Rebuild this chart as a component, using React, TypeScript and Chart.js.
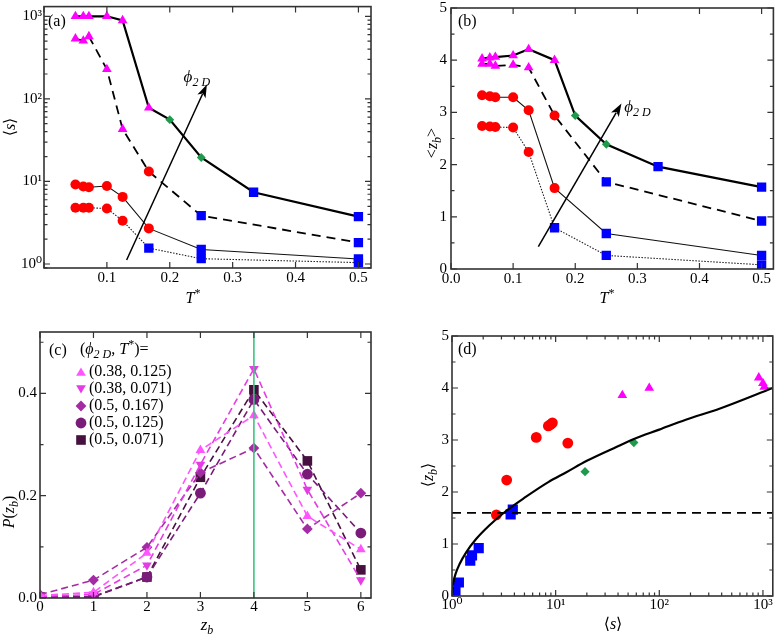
import React, { useEffect, useRef } from 'react';
import { Chart, registerables } from 'chart.js';

Chart.register(...registerables);

const SERIF = "'Liberation Serif', 'DejaVu Serif', serif";

// ---------------- Panels (a) and (b) ----------------
const T_PHI1 = [0.05, 0.0625, 0.0714, 0.1, 0.125, 0.1667, 0.2, 0.25, 0.3333, 0.5];
const T_OTHER = [0.05, 0.0625, 0.0714, 0.1, 0.125, 0.1667, 0.25, 0.5];

const KIND_PHI1 = ['T', 'T', 'T', 'T', 'T', 'T', 'D', 'D', 'S', 'S'];
const KIND_PHI2 = ['T', 'T', 'T', 'T', 'T', 'C', 'S', 'S'];
const KIND_PHI3 = ['C', 'C', 'C', 'C', 'C', 'C', 'S', 'S'];
const KIND_PHI4 = ['C', 'C', 'C', 'C', 'C', 'S', 'S', 'S'];

const S_PHI1 = [1000, 1000, 1000, 1000, 890, 78, 56, 19.5, 7.4, 3.75];
const S_PHI2 = [535, 505, 570, 228, 43, 13.2, 3.85, 1.82];
const S_PHI3 = [9.2, 8.7, 8.5, 8.8, 6.5, 2.7, 1.5, 1.15];
const S_PHI4 = [4.8, 4.8, 4.8, 4.7, 3.35, 1.56, 1.16, 1.04];

const Z_PHI1 = [4.03, 4.05, 4.06, 4.09, 4.21, 4.0, 2.94, 2.39, 1.96, 1.57];
const Z_PHI2 = [3.93, 3.93, 3.89, 3.91, 3.86, 2.94, 1.67, 0.92];
const Z_PHI3 = [3.33, 3.31, 3.29, 3.29, 3.04, 1.55, 0.68, 0.26];
const Z_PHI4 = [2.74, 2.73, 2.72, 2.71, 2.24, 0.79, 0.26, 0.08];

const T_TICKS_A = [0.1, 0.2, 0.3, 0.4, 0.5];
const T_TICKS_B = [0, 0.1, 0.2, 0.3, 0.4, 0.5];
const S_DECADES_A = [1, 10, 100, 1000];
const Z_TICKS = [0, 1, 2, 3, 4, 5];

const ARROW_A = [0.1314, 1.117, 0.259, 149];
const ARROW_B = [0.1406, 0.43, 0.2744, 3.17];
const PHI_LABEL_A = [0.222, 180];
const PHI_LABEL_B = [0.279, 3.09];

// ---------------- Panel (c) ----------------
const ZB = [0, 1, 2, 3, 4, 5, 6];
const C_LABELS = ['(0.38, 0.125)', '(0.38, 0.071)', '(0.5, 0.167)', '(0.5, 0.125)', '(0.5, 0.071)'];
const P_038_0125 = [0.005, 0.011, 0.088, 0.289, 0.357, 0.16, 0.095];
const P_038_0071 = [0.003, 0.007, 0.064, 0.261, 0.448, 0.212, 0.035];
const P_05_0167 = [0.0065, 0.035, 0.099, 0.245, 0.293, 0.135, 0.205];
const P_05_0125 = [0.002, 0.003, 0.041, 0.205, 0.388, 0.242, 0.127];
const P_05_0071 = [0.002, 0.002, 0.041, 0.236, 0.407, 0.268, 0.055];
const P_TICKS = [0, 0.2, 0.4];
const ZB_MARK = 4;

// ---------------- Panel (d) ----------------
const D_SQ_S = [1.08, 1.165, 1.5, 1.56, 1.81, 3.68, 3.86];
const D_SQ_Z = [0.08, 0.26, 0.68, 0.78, 0.92, 1.57, 1.66];
const D_CI_S = [2.68, 3.37, 6.5, 8.5, 8.95, 9.3, 13.1];
const D_CI_Z = [1.56, 2.23, 3.05, 3.27, 3.3, 3.33, 2.94];
const D_DI_S = [19.2, 56.8];
const D_DI_Z = [2.39, 2.95];
const D_TR_S = [44, 80, 912, 1000, 1030];
const D_TR_Z = [3.86, 4.0, 4.2, 4.09, 4.02];
const FIT_S = [1.0, 1.01, 1.03, 1.08, 1.18, 1.37, 1.7, 2.3, 3.3, 5.1, 8.5, 12.7, 20, 42, 57, 100, 180, 380, 1245];
const FIT_Z = [0.0, 0.15, 0.26, 0.42, 0.61, 0.84, 1.09, 1.36, 1.63, 1.9, 2.19, 2.38, 2.6, 2.9, 3.02, 3.2, 3.39, 3.6, 4.0];
const THRESH_Z = 1.6;
const S_DECADES_D = [1, 10, 100, 1000];

// ---------------- helpers ----------------
const MK: any = {
  T: { style: 'triangle', color: '#ff00ff' },
  C: { style: 'circle', color: '#ff0000' },
  D: { style: 'rectRot', color: '#1f9a4c' },
  S: { style: 'rect', color: '#0000ff' },
};
const SUP = ['\u2070', '\u00b9', '\u00b2', '\u00b3'];
const AX_FONT = { family: SERIF, size: 15 };

type Seg = { t: string; it?: boolean; sub?: boolean; sup?: boolean };

function drawRich(ctx: CanvasRenderingContext2D, segs: Seg[], x: number, y: number, size: number, align: string, rot: number) {
  ctx.save();
  ctx.translate(x, y);
  ctx.rotate(rot);
  const fontFor = (s: Seg) => `${s.it ? 'italic ' : ''}${s.sub || s.sup ? Math.round(size * 0.72) : size}px ${SERIF}`;
  let total = 0;
  const widths = segs.map((s) => {
    ctx.font = fontFor(s);
    const w = ctx.measureText(s.t).width;
    total += w;
    return w;
  });
  let cx = align === 'center' ? -total / 2 : 0;
  ctx.textBaseline = 'middle';
  ctx.textAlign = 'left';
  ctx.fillStyle = '#000';
  segs.forEach((s, i) => {
    ctx.font = fontFor(s);
    const dy = s.sub ? size * 0.3 : s.sup ? -size * 0.33 : 0;
    ctx.fillText(s.t, cx, dy);
    cx += widths[i];
  });
  ctx.restore();
}

function drawMarker(ctx: CanvasRenderingContext2D, style: string, x: number, y: number, r: number, rotDeg: number, color: string) {
  ctx.save();
  ctx.fillStyle = color;
  ctx.beginPath();
  let rad = (rotDeg * Math.PI) / 180;
  if (style === 'circle') {
    ctx.arc(x, y, r, 0, Math.PI * 2);
  } else if (style === 'triangle') {
    for (let k = 0; k < 3; k++) {
      const px = x + Math.sin(rad) * r;
      const py = y - Math.cos(rad) * r;
      if (k === 0) ctx.moveTo(px, py);
      else ctx.lineTo(px, py);
      rad += (2 * Math.PI) / 3;
    }
    ctx.closePath();
  } else if (style === 'rect') {
    const s = Math.SQRT1_2 * r;
    ctx.rect(x - s, y - s, 2 * s, 2 * s);
  } else if (style === 'rectRot') {
    ctx.moveTo(x - r, y);
    ctx.lineTo(x, y - r);
    ctx.lineTo(x + r, y);
    ctx.lineTo(x, y + r);
    ctx.closePath();
  }
  ctx.fill();
  ctx.restore();
}

function makeDeco(cfg: any) {
  return {
    id: 'deco',
    afterDatasetsDraw(chart: any) {
      const ctx: CanvasRenderingContext2D = chart.ctx;
      const a = chart.chartArea;
      const xs = chart.scales.x;
      const ys = chart.scales.y;
      ctx.save();
      (cfg.vlines || []).forEach((v: any) => {
        const px = xs.getPixelForValue(v.x);
        ctx.strokeStyle = v.color;
        ctx.lineWidth = v.width;
        ctx.beginPath();
        ctx.moveTo(px, a.top);
        ctx.lineTo(px, a.bottom);
        ctx.stroke();
      });
      // frame
      ctx.strokeStyle = '#333';
      ctx.lineWidth = 1.6;
      ctx.strokeRect(a.left, a.top, a.right - a.left, a.bottom - a.top);
      ctx.lineWidth = 1.2;
      const inRange = (v: number, s: any) => v >= s.min - 1e-9 && v <= s.max + 1e-9;
      const xt = (vals: number[], len: number) =>
        vals.forEach((v) => {
          if (!inRange(v, xs)) return;
          const p = xs.getPixelForValue(v);
          ctx.beginPath();
          ctx.moveTo(p, a.bottom);
          ctx.lineTo(p, a.bottom - len);
          ctx.moveTo(p, a.top);
          ctx.lineTo(p, a.top + len);
          ctx.stroke();
        });
      const yt = (vals: number[], len: number) =>
        vals.forEach((v) => {
          if (!inRange(v, ys)) return;
          const p = ys.getPixelForValue(v);
          ctx.beginPath();
          ctx.moveTo(a.left, p);
          ctx.lineTo(a.left + len, p);
          ctx.moveTo(a.right, p);
          ctx.lineTo(a.right - len, p);
          ctx.stroke();
        });
      xt(cfg.xMajor || [], 6);
      xt(cfg.xMinor || [], 3.5);
      yt(cfg.yMajor || [], 6);
      yt(cfg.yMinor || [], 3.5);
      // arrows
      (cfg.arrows || []).forEach((ar: number[]) => {
        const x0 = xs.getPixelForValue(ar[0]);
        const y0 = ys.getPixelForValue(ar[1]);
        const x1 = xs.getPixelForValue(ar[2]);
        const y1 = ys.getPixelForValue(ar[3]);
        const ang = Math.atan2(y1 - y0, x1 - x0);
        const hl = 13;
        const hw = 4.5;
        ctx.strokeStyle = '#000';
        ctx.fillStyle = '#000';
        ctx.lineWidth = 1.5;
        ctx.beginPath();
        ctx.moveTo(x0, y0);
        ctx.lineTo(x1 - Math.cos(ang) * hl * 0.8, y1 - Math.sin(ang) * hl * 0.8);
        ctx.stroke();
        ctx.beginPath();
        ctx.moveTo(x1, y1);
        ctx.lineTo(x1 - Math.cos(ang) * hl - Math.sin(ang) * hw, y1 - Math.sin(ang) * hl + Math.cos(ang) * hw);
        ctx.lineTo(x1 - Math.cos(ang) * hl * 0.75, y1 - Math.sin(ang) * hl * 0.75);
        ctx.lineTo(x1 - Math.cos(ang) * hl + Math.sin(ang) * hw, y1 - Math.sin(ang) * hl - Math.cos(ang) * hw);
        ctx.closePath();
        ctx.fill();
      });
      // texts
      (cfg.texts || []).forEach((t: any) => {
        const x = t.px ? t.px[0] : xs.getPixelForValue(t.data[0]);
        const y = t.px ? t.px[1] : ys.getPixelForValue(t.data[1]);
        drawRich(ctx, t.segs, x, y, t.size || 16, t.align || 'left', t.rot || 0);
      });
      // legend
      if (cfg.legend) {
        const L = cfg.legend;
        L.entries.forEach((e: any, i: number) => {
          const y = L.y + i * L.dy;
          drawMarker(ctx, e.style, L.x, y + (e.style === 'triangle' ? (e.rot ? -1 : 1) : 0), e.r, e.rot || 0, e.color);
          drawRich(ctx, [{ t: e.label }], L.x + 8, y, 16, 'left', 0);
        });
      }
      ctx.restore();
    },
  };
}

function fixAxis(size: number, isX: boolean) {
  return (s: any) => {
    if (isX) s.height = size;
    else s.width = size;
    s.paddingLeft = 0;
    s.paddingRight = 0;
    s.paddingTop = 0;
    s.paddingBottom = 0;
  };
}

function setTicks(vals: number[]) {
  return (s: any) => {
    s.ticks = vals.map((v) => ({ value: v }));
  };
}

function logMinors(lo: number, hi: number) {
  const out: number[] = [];
  for (let e = Math.floor(Math.log10(lo)); e <= Math.ceil(Math.log10(hi)); e++) {
    for (let m = 2; m <= 9; m++) out.push(m * Math.pow(10, e));
  }
  return out;
}

function stepVals(lo: number, hi: number, step: number) {
  const out: number[] = [];
  for (let v = lo; v <= hi + 1e-9; v += step) out.push(Math.round(v * 1000) / 1000);
  return out;
}

function mixedSeries(xs: number[], ys: number[], kinds: string[], radii: any, line: any) {
  return {
    data: xs.map((x, i) => ({ x, y: ys[i] })),
    borderColor: line.color,
    borderWidth: line.width,
    borderDash: line.dash,
    pointStyle: kinds.map((k) => MK[k].style),
    pointBackgroundColor: kinds.map((k) => MK[k].color),
    pointBorderColor: kinds.map((k) => MK[k].color),
    pointBorderWidth: 0,
    pointRadius: kinds.map((k) => radii[k]),
    pointHoverRadius: kinds.map((k) => radii[k]),
    fill: false,
    tension: 0,
    clip: 0,
  };
}

const LINE1 = { color: '#000', width: 2.2, dash: [] };
const LINE2 = { color: '#000', width: 1.8, dash: [9, 6] };
const LINE3 = { color: '#111', width: 1.1, dash: [] };
const LINE4 = { color: '#222', width: 1.1, dash: [1.5, 1.5] };
const RAD_AB = { T: 5.6, C: 5.0, D: 4.4, S: 6.6 };

const baseOpts = {
  animation: false,
  responsive: false,
  devicePixelRatio: 1,
  events: [],
};

function tickCfg(cb: any, padding: number) {
  return { font: AX_FONT, color: '#000', padding, autoSkip: false, maxRotation: 0, minRotation: 0, callback: cb };
}

const noGrid = { display: false, drawTicks: false };
const noBorder = { display: false };

const ANG = { t: '\u27e8' };
const ANG_R = { t: '\u27e9' };

function configA() {
  return {
    type: 'line',
    data: {
      datasets: [
        mixedSeries(T_OTHER, S_PHI4, KIND_PHI4, RAD_AB, LINE4),
        mixedSeries(T_OTHER, S_PHI3, KIND_PHI3, RAD_AB, LINE3),
        mixedSeries(T_OTHER, S_PHI2, KIND_PHI2, RAD_AB, LINE2),
        mixedSeries(T_PHI1, S_PHI1, KIND_PHI1, RAD_AB, LINE1),
      ],
    },
    options: {
      ...baseOpts,
      layout: { padding: { left: 0, top: 5, right: 19, bottom: 0 } },
      plugins: { legend: { display: false }, tooltip: { enabled: false } },
      scales: {
        x: {
          type: 'linear', min: 0, max: 0.52,
          afterBuildTicks: setTicks(T_TICKS_A), afterFit: fixAxis(49, true),
          ticks: tickCfg((v: number) => v.toFixed(1), 1), grid: noGrid, border: noBorder,
        },
        y: {
          type: 'logarithmic', min: 0.895, max: 1310,
          afterBuildTicks: setTicks(S_DECADES_A), afterFit: fixAxis(44, false),
          ticks: tickCfg((v: number) => '10' + SUP[Math.round(Math.log10(v))], 2), grid: noGrid, border: noBorder,
        },
      },
    },
    plugins: [
      makeDeco({
        xMajor: T_TICKS_B,
        yMajor: S_DECADES_A,
        yMinor: logMinors(0.9, 1300),
        arrows: [ARROW_A],
        texts: [
          { segs: [{ t: '(a)' }], px: [48, 22], size: 16 },
          { segs: [{ t: '\u03d5', it: true }, { t: '2 D', it: true, sub: true }], data: PHI_LABEL_A, size: 17 },
          { segs: [{ t: 'T', it: true }, { t: '*', sup: true }], px: [193, 299], size: 16, align: 'center' },
          { segs: [ANG, { t: 's', it: true }, ANG_R], px: [11, 127], size: 16, align: 'center', rot: -Math.PI / 2 },
        ],
      }),
    ],
  };
}

function configB() {
  return {
    type: 'line',
    data: {
      datasets: [
        mixedSeries(T_OTHER, Z_PHI4, KIND_PHI4, RAD_AB, LINE4),
        mixedSeries(T_OTHER, Z_PHI3, KIND_PHI3, RAD_AB, LINE3),
        mixedSeries(T_OTHER, Z_PHI2, KIND_PHI2, RAD_AB, LINE2),
        mixedSeries(T_PHI1, Z_PHI1, KIND_PHI1, RAD_AB, LINE1),
      ],
    },
    options: {
      ...baseOpts,
      layout: { padding: { left: 0, top: 8, right: 3, bottom: 0 } },
      plugins: { legend: { display: false }, tooltip: { enabled: false } },
      scales: {
        x: {
          type: 'linear', min: 0, max: 0.519,
          afterBuildTicks: setTicks(T_TICKS_B), afterFit: fixAxis(48, true),
          ticks: tickCfg((v: number) => v.toFixed(1), 1), grid: noGrid, border: noBorder,
        },
        y: {
          type: 'linear', min: 0, max: 5,
          afterBuildTicks: setTicks(Z_TICKS), afterFit: fixAxis(61, false),
          ticks: tickCfg((v: number) => String(v), 4), grid: noGrid, border: noBorder,
        },
      },
    },
    plugins: [
      makeDeco({
        xMajor: T_TICKS_B,
        yMajor: Z_TICKS,
        yMinor: stepVals(0.5, 4.5, 1),
        arrows: [ARROW_B],
        texts: [
          { segs: [{ t: '(b)' }], px: [68, 22], size: 16 },
          { segs: [{ t: '\u03d5', it: true }, { t: '2 D', it: true, sub: true }], data: PHI_LABEL_B, size: 17 },
          { segs: [{ t: 'T', it: true }, { t: '*', sup: true }], px: [217, 299], size: 16, align: 'center' },
          { segs: [{ t: '<' }, { t: 'z', it: true }, { t: 'b', it: true, sub: true }, { t: '>' }], px: [43, 143], size: 16, align: 'center', rot: -Math.PI / 2 },
        ],
      }),
    ],
  };
}

const C_COLORS = ['#ff55ff', '#e63ce6', '#a32ba3', '#7a1b7a', '#46113f'];
const C_STYLES = [
  { style: 'triangle', rot: 0, r: 5.6 },
  { style: 'triangle', rot: 180, r: 5.6 },
  { style: 'rectRot', rot: 0, r: 5.4 },
  { style: 'circle', rot: 0, r: 5.4 },
  { style: 'rect', rot: 0, r: 6.8 },
];
const C_SERIES = [P_038_0125, P_038_0071, P_05_0167, P_05_0125, P_05_0071];

function configC() {
  return {
    type: 'line',
    data: {
      datasets: C_SERIES.map((vals, i) => ({
        label: C_LABELS[i],
        data: ZB.map((z, j) => ({ x: z, y: vals[j] })),
        borderColor: C_COLORS[i],
        borderWidth: 1.6,
        borderDash: [7, 4],
        pointStyle: C_STYLES[i].style,
        pointRotation: C_STYLES[i].rot,
        pointRadius: C_STYLES[i].r,
        pointBackgroundColor: C_COLORS[i],
        pointBorderColor: C_COLORS[i],
        pointBorderWidth: 0,
        fill: false,
        tension: 0,
        clip: 0,
      })),
    },
    options: {
      ...baseOpts,
      layout: { padding: { left: 0, top: 15, right: 19, bottom: 0 } },
      plugins: { legend: { display: false }, tooltip: { enabled: false } },
      scales: {
        x: {
          type: 'linear', min: 0, max: 6.19,
          afterBuildTicks: setTicks(ZB), afterFit: fixAxis(36, true),
          ticks: tickCfg((v: number) => String(v), 0), grid: noGrid, border: noBorder,
        },
        y: {
          type: 'linear', min: 0, max: 0.52,
          afterBuildTicks: setTicks(P_TICKS), afterFit: fixAxis(40, false),
          ticks: tickCfg((v: number) => v.toFixed(1), 3), grid: noGrid, border: noBorder,
        },
      },
    },
    plugins: [
      makeDeco({
        xMajor: ZB,
        yMajor: P_TICKS,
        yMinor: [0.1, 0.3, 0.5],
        vlines: [{ x: ZB_MARK, color: '#3cc47e', width: 1.6 }],
        texts: [
          { segs: [{ t: '(c)' }], px: [49, 34], size: 16 },
          {
            segs: [{ t: '(' }, { t: '\u03d5', it: true }, { t: '2 D', it: true, sub: true }, { t: ', ' }, { t: 'T', it: true }, { t: '*', sup: true }, { t: ')=' }],
            px: [80, 33], size: 16,
          },
          { segs: [{ t: 'z', it: true }, { t: 'b', it: true, sub: true }], px: [207, 309], size: 17, align: 'center' },
          { segs: [{ t: 'P', it: true }, { t: '(' }, { t: 'z', it: true }, { t: 'b', it: true, sub: true }, { t: ')' }], px: [10, 195], size: 16, align: 'center', rot: -Math.PI / 2 },
        ],
        legend: {
          x: 81, y: 55, dy: 17,
          entries: C_LABELS.map((lab, i) => ({ label: lab, style: C_STYLES[i].style, rot: C_STYLES[i].rot, r: C_STYLES[i].r, color: C_COLORS[i] })),
        },
      }),
    ],
  };
}

function scatterSet(xs: number[], ys: number[], kind: string, r: number) {
  return {
    data: xs.map((x, i) => ({ x, y: ys[i] })),
    showLine: false,
    pointStyle: MK[kind].style,
    pointRadius: r,
    pointBackgroundColor: MK[kind].color,
    pointBorderColor: MK[kind].color,
    pointBorderWidth: 0,
    clip: 0,
  };
}

function configD() {
  return {
    type: 'line',
    data: {
      datasets: [
        {
          data: [{ x: 1, y: THRESH_Z }, { x: 1245, y: THRESH_Z }],
          borderColor: '#000', borderWidth: 1.8, borderDash: [9, 6], pointRadius: 0, fill: false, clip: 0,
        },
        {
          data: FIT_S.map((s, i) => ({ x: s, y: FIT_Z[i] })),
          borderColor: '#000', borderWidth: 2.2, pointRadius: 0, fill: false,
          cubicInterpolationMode: 'monotone', clip: 0,
        },
        scatterSet(D_SQ_S, D_SQ_Z, 'S', 7.2),
        scatterSet(D_CI_S, D_CI_Z, 'C', 5.4),
        scatterSet(D_DI_S, D_DI_Z, 'D', 4.6),
        scatterSet(D_TR_S, D_TR_Z, 'T', 5.6),
      ],
    },
    options: {
      ...baseOpts,
      layout: { padding: { left: 0, top: 19, right: 2, bottom: 0 } },
      plugins: { legend: { display: false }, tooltip: { enabled: false } },
      scales: {
        x: {
          type: 'logarithmic', min: 1, max: 1245,
          afterBuildTicks: setTicks(S_DECADES_D), afterFit: fixAxis(38, true),
          ticks: tickCfg((v: number) => '10' + SUP[Math.round(Math.log10(v))], 0), grid: noGrid, border: noBorder,
        },
        y: {
          type: 'linear', min: 0, max: 5,
          afterBuildTicks: setTicks(Z_TICKS), afterFit: fixAxis(62, false),
          ticks: tickCfg((v: number) => String(v), 3), grid: noGrid, border: noBorder,
        },
      },
    },
    plugins: [
      makeDeco({
        xMajor: S_DECADES_D,
        xMinor: logMinors(1, 1245),
        yMajor: Z_TICKS,
        yMinor: stepVals(0.5, 4.5, 1),
        texts: [
          { segs: [{ t: '(d)' }], px: [68, 33], size: 16 },
          { segs: [ANG, { t: 's', it: true }, ANG_R], px: [223, 308], size: 16, align: 'center' },
          { segs: [ANG, { t: 'z', it: true }, { t: 'b', it: true, sub: true }, ANG_R], px: [39, 158], size: 16, align: 'center', rot: -Math.PI / 2 },
        ],
      }),
    ],
  };
}

function ChartBox({ make, left, top }: { make: () => any; left: number; top: number }) {
  const ref = useRef<HTMLCanvasElement | null>(null);
  useEffect(() => {
    if (!ref.current) return;
    const c = new Chart(ref.current, make());
    return () => c.destroy();
  }, []);
  return (
    <canvas
      ref={ref}
      width={390}
      height={317}
      style={{ position: 'absolute', left, top, width: 390, height: 317, display: 'block' }}
    />
  );
}

export default function App() {
  return (
    <div style={{ position: 'absolute', left: 0, top: 0, width: 780, height: 634, background: '#fff', overflow: 'hidden' }}>
      <ChartBox make={configA} left={0} top={0} />
      <ChartBox make={configB} left={390} top={0} />
      <ChartBox make={configC} left={0} top={317} />
      <ChartBox make={configD} left={390} top={317} />
    </div>
  );
}
